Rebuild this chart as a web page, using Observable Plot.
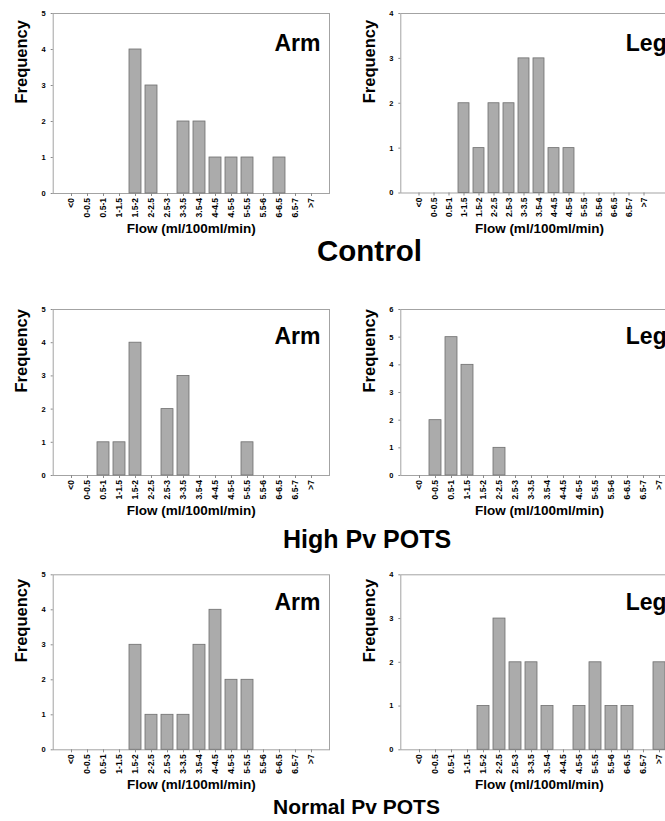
<!DOCTYPE html>
<html>
<head>
<meta charset="utf-8">
<script src="https://cdn.jsdelivr.net/npm/d3@7"></script>
<script src="https://cdn.jsdelivr.net/npm/@observablehq/plot@0.6"></script>
<style>
html, body { margin: 0; padding: 0; background: #fff; }
#fig { position: relative; width: 665px; height: 821px; overflow: hidden; font-family: "Liberation Sans", Arial, sans-serif; }
.panel { position: absolute; }
.title { position: absolute; font-weight: bold; color: #000; white-space: nowrap; line-height: 1; font-family: "Liberation Sans", Arial, sans-serif; }
</style>
</head>
<body>
<div id="fig"></div>
<script>
// ---- data ----
const categories = ["<0","0-0.5","0.5-1","1-1.5","1.5-2","2-2.5","2.5-3","3-3.5","3.5-4","4-4.5","4.5-5","5-5.5","5.5-6","6-6.5","6.5-7",">7"];
const controlArm  = [0,0,0,0,4,3,0,2,2,1,1,1,0,1,0,0];
const controlLeg  = [0,0,0,2,1,2,2,3,3,1,1,0,0,0,0,0];
const highPvArm   = [0,0,1,1,4,0,2,3,0,0,0,1,0,0,0,0];
const highPvLeg   = [0,2,5,4,0,1,0,0,0,0,0,0,0,0,0,0];
const normalPvArm = [0,0,0,0,3,1,1,1,3,4,2,2,0,0,0,0];
const normalPvLeg = [0,0,0,0,1,3,2,2,1,0,1,2,1,1,0,2];
const yAxisMax = [5, 4, 5, 6, 5, 4];
const groupTitles = ["Control", "High Pv POTS", "Normal Pv POTS"];
const limbLabels = ["Arm", "Leg"];
const xAxisLabel = "Flow (ml/100ml/min)";
const yAxisLabel = "Frequency";

// ---- layout (positions only) ----
const FONT = "'Liberation Sans', Arial, sans-serif";
const panels = [
  {values: controlArm,  yMax: yAxisMax[0], limb: limbLabels[0], left: 0,   top: 0,   width: 335, mL: 52.7, mR: 6,   mT: 13,   plotH: 180,   c0: 67.7, step: 16.35, labelDx: 221.3, labelBase: 28.5},
  {values: controlLeg,  yMax: yAxisMax[1], limb: limbLabels[1], left: 340, top: 0,   width: 345, mL: 60.3, mR: 7.5, mT: 13,   plotH: 179.5, c0: 75,   step: 15.4,  labelDx: 225,   labelBase: 28.5},
  {values: highPvArm,   yMax: yAxisMax[2], limb: limbLabels[0], left: 0,   top: 290, width: 335, mL: 52.7, mR: 6,   mT: 19,   plotH: 166,   c0: 67.7, step: 16.35, labelDx: 221.3, labelBase: 25.5},
  {values: highPvLeg,   yMax: yAxisMax[3], limb: limbLabels[1], left: 340, top: 290, width: 345, mL: 60.3, mR: 7.5, mT: 19,   plotH: 166,   c0: 76,   step: 16.4,  labelDx: 225,   labelBase: 25.5},
  {values: normalPvArm, yMax: yAxisMax[4], limb: limbLabels[0], left: 0,   top: 555, width: 335, mL: 52.7, mR: 6,   mT: 19.3, plotH: 175,   c0: 67.7, step: 16.35, labelDx: 221.3, labelBase: 26.7},
  {values: normalPvLeg, yMax: yAxisMax[5], limb: limbLabels[1], left: 340, top: 555, width: 345, mL: 60.3, mR: 7.5, mT: 19.3, plotH: 175,   c0: 76,   step: 16.4,  labelDx: 225,   labelBase: 26.7}
];

const fig = document.getElementById("fig");

panels.forEach(p => {
  const mB = 52;
  const height = p.mT + p.plotH + mB;
  const data = categories.map((c, i) => ({cat: c, n: p.values[i]})).filter(d => d.n > 0);
  const n = categories.length;
  const xRange = [p.c0 - p.step / 2, p.c0 - p.step / 2 + p.step * n];
  const chart = Plot.plot({
    width: p.width,
    height,
    marginLeft: p.mL,
    marginRight: p.mR,
    marginTop: p.mT,
    marginBottom: mB,
    style: {fontFamily: FONT, fontWeight: "bold", background: "transparent", color: "#000", overflow: "visible"},
    x: {type: "band", domain: categories, range: xRange, paddingInner: 0.28, paddingOuter: 0.14, label: null},
    y: {domain: [0, p.yMax], label: null},
    marks: [
      Plot.frame({stroke: "#a3a3a3", strokeWidth: 1}),
      Plot.barY(data, {x: "cat", y: "n", fill: "#ababab", stroke: "#6e6e6e", strokeWidth: 0.8}),
      Plot.axisX({tickRotate: -90, tickSize: 3, tickPadding: 1.5, fontSize: 8.5, stroke: "#8a8a8a", label: null}),
      Plot.axisY({ticks: d3.range(0, p.yMax + 1), tickFormat: d => d, tickSize: 2, tickPadding: 5.5, fontSize: 7.5, stroke: "#8a8a8a", label: null}),
      Plot.text([yAxisLabel], {frameAnchor: "left", dx: -31, rotate: -90, fontSize: 16.5, fontWeight: "bold", fill: "#000"}),
      Plot.text([xAxisLabel], {frameAnchor: "bottom", dy: 39.5, fontSize: 13.5, fontWeight: "bold", fill: "#000"}),
      Plot.text([p.limb], {frameAnchor: "top-left", textAnchor: "start", dx: p.labelDx, dy: p.labelBase - 0.32 * 23, fontSize: 23, fontWeight: "bold", fill: "#000"})
    ]
  });
  chart.classList.add("panel");
  chart.style.left = p.left + "px";
  chart.style.top = p.top + "px";
  fig.appendChild(chart);
});

// group titles
const titleSpecs = [
  {text: groupTitles[0], left: 317, baseline: 261, size: 29.5},
  {text: groupTitles[1], left: 283, baseline: 548, size: 25},
  {text: groupTitles[2], left: 273, baseline: 814, size: 21}
];
titleSpecs.forEach(t => {
  const d = document.createElement("div");
  d.className = "title";
  d.textContent = t.text;
  d.style.fontSize = t.size + "px";
  d.style.left = t.left + "px";
  d.style.top = (t.baseline - 0.8465 * t.size) + "px";
  fig.appendChild(d);
});
</script>
</body>
</html>
